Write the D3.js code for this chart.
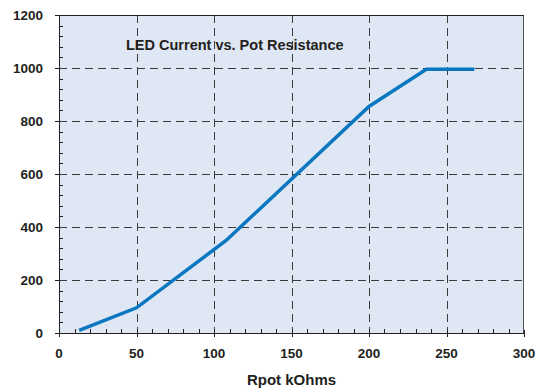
<!DOCTYPE html>
<html><head><meta charset="utf-8">
<script src="https://cdn.jsdelivr.net/npm/d3@7"></script>
<style>
body{margin:0;background:#fff;}
text{font-family:"Liberation Sans",Arial,sans-serif;font-weight:bold;fill:#231f20;}
</style></head>
<body>
<script>
const rpot = [13, 50, 108, 200, 237, 268];
const current = [10, 95, 350, 855, 995, 995];
const xTicks = [0, 50, 100, 150, 200, 250, 300];
const yTicks = [0, 200, 400, 600, 800, 1000, 1200];
const title = "LED Current vs. Pot Resistance";
const xLabel = "Rpot kOhms";

const W = 539, H = 389;
const m = {left: 59, right: 15, top: 15, bottom: 56};
const svg = d3.select("body").append("svg").attr("width", W).attr("height", H);
const x = d3.scaleLinear().domain([0, 300]).range([m.left, W - m.right]);
const y = d3.scaleLinear().domain([0, 1200]).range([H - m.bottom, m.top]);

svg.append("rect").attr("x", x(0)).attr("y", y(1200)).attr("width", x(300) - x(0)).attr("height", y(0) - y(1200))
  .attr("fill", "#dfe6f4");

// grid
const g = svg.append("g").attr("stroke", "#3a3a3a").attr("stroke-width", 1).attr("stroke-dasharray", "8,5");
g.selectAll(".gx").data(xTicks.filter(d => d > 0 && d < 300)).enter().append("line")
  .attr("x1", d => Math.round(x(d)) + 0.5).attr("x2", d => Math.round(x(d)) + 0.5)
  .attr("y1", y(1200)).attr("y2", y(0));
g.selectAll(".gy").data(yTicks.filter(d => d > 0 && d < 1200)).enter().append("line")
  .attr("y1", d => Math.round(y(d)) + 0.5).attr("y2", d => Math.round(y(d)) + 0.5)
  .attr("x1", x(0)).attr("x2", x(300));

// axes
const ax = svg.append("g").attr("stroke", "#231f20").attr("stroke-width", 1);
ax.append("line").attr("x1", x(0) + 0.5).attr("x2", x(0) + 0.5).attr("y1", y(1200)).attr("y2", y(0));
ax.append("line").attr("x1", x(0)).attr("x2", x(300)).attr("y1", Math.round(y(0)) + 0.5).attr("y2", Math.round(y(0)) + 0.5);
ax.append("line").attr("x1", x(300) - 0.5).attr("x2", x(300) - 0.5).attr("y1", y(1200)).attr("y2", y(0)).attr("stroke", "#555");
ax.append("line").attr("x1", x(0)).attr("x2", x(300)).attr("y1", y(1200) + 0.5).attr("y2", y(1200) + 0.5);

// minor ticks
const yMinor = d3.range(0, 1201, 40).filter(d => d % 200 !== 0);
ax.selectAll(".ym").data(yMinor).enter().append("line")
  .attr("x1", x(0)).attr("x2", x(0) + 4)
  .attr("y1", d => Math.round(y(d)) + 0.5).attr("y2", d => Math.round(y(d)) + 0.5);
const xMinor = d3.range(0, 301, 10).filter(d => d % 50 !== 0);
ax.selectAll(".xm").data(xMinor).enter().append("line")
  .attr("x1", d => Math.round(x(d)) + 0.5).attr("x2", d => Math.round(x(d)) + 0.5)
  .attr("y1", y(0)).attr("y2", y(0) - 4);
// major ticks
ax.selectAll(".yM").data(yTicks).enter().append("line")
  .attr("x1", x(0) - 4).attr("x2", x(0))
  .attr("y1", d => Math.round(y(d)) + 0.5).attr("y2", d => Math.round(y(d)) + 0.5);
ax.selectAll(".xM").data(xTicks).enter().append("line")
  .attr("x1", d => Math.round(x(d)) + 0.5).attr("x2", d => Math.round(x(d)) + 0.5)
  .attr("y1", y(0) - 3).attr("y2", y(0) + 4);

// tick labels
svg.selectAll(".yl").data(yTicks).enter().append("text")
  .attr("x", 43).attr("y", d => y(d) + 5).attr("text-anchor", "end")
  .attr("font-size", 13.5).text(d => d);
svg.selectAll(".xl").data(xTicks).enter().append("text")
  .attr("x", d => x(d)).attr("y", 358).attr("text-anchor", "middle")
  .attr("font-size", 13.5).text(d => d);

svg.append("text").attr("x", (x(0) + x(300)) / 2).attr("y", 385).attr("text-anchor", "middle")
  .attr("font-size", 15).text(xLabel);
svg.append("text").attr("x", 126).attr("y", 50).attr("font-size", 14.5).text(title);

// line
svg.append("path").datum(rpot.map((d, i) => [d, current[i]]))
  .attr("fill", "none").attr("stroke", "#0a77c0").attr("stroke-width", 3.5)
  .attr("stroke-linejoin", "miter")
  .attr("d", d3.line().x(d => x(d[0])).y(d => y(d[1])));
</script>
</body></html>
